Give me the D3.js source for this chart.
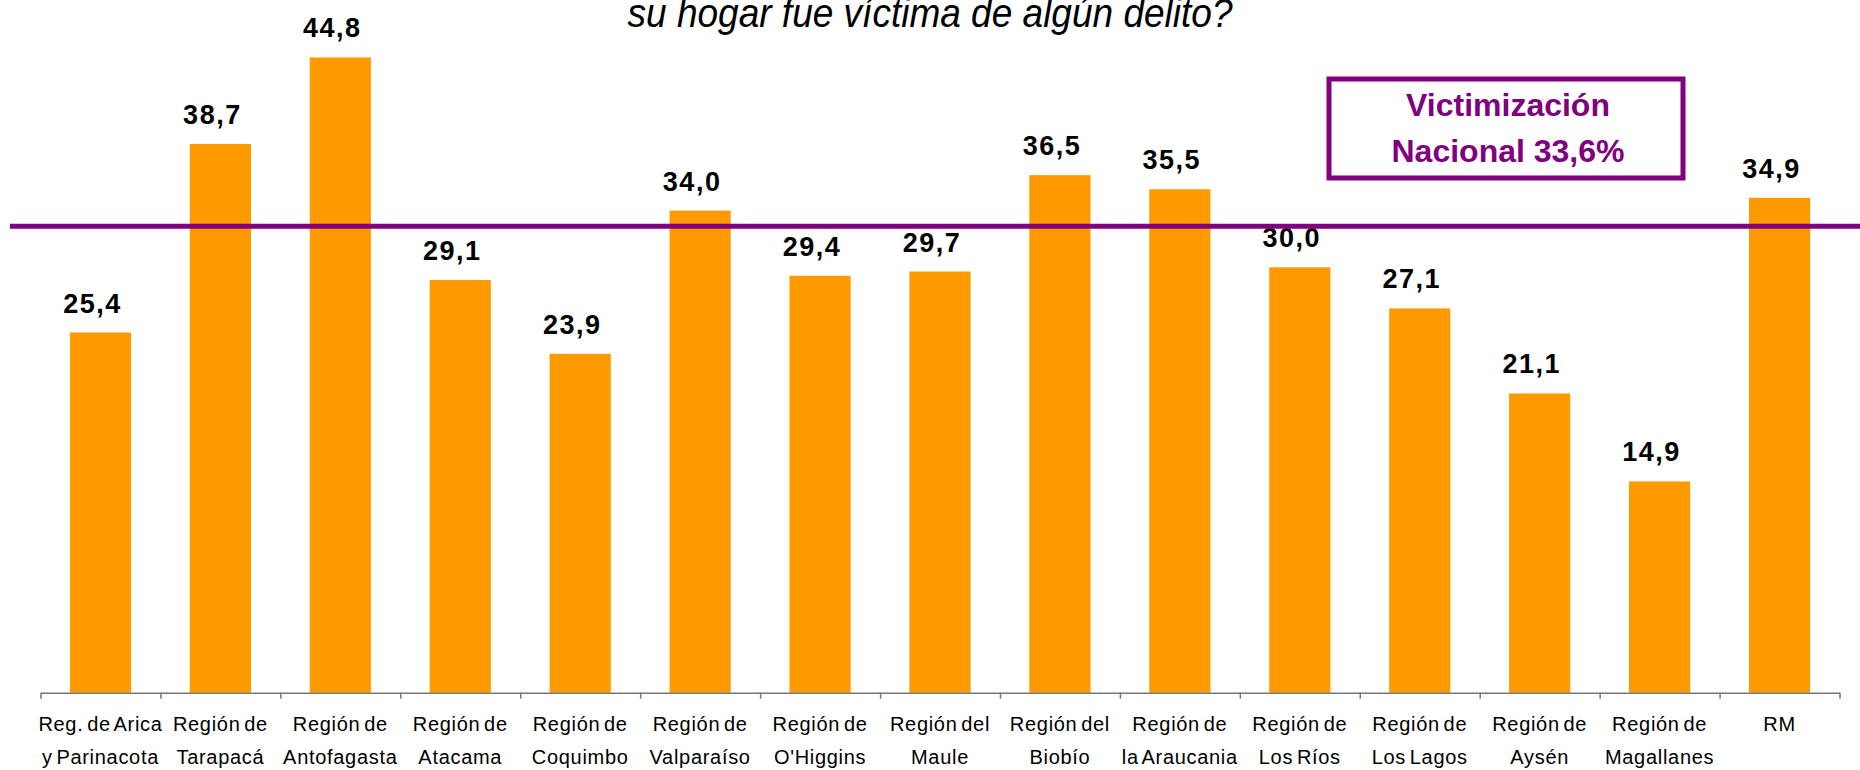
<!DOCTYPE html>
<html lang="es">
<head>
<meta charset="UTF-8">
<title>Victimización por región</title>
<script src="https://d3js.org/d3.v7.min.js"></script>
<style>
  body { margin: 0; background: #fff; overflow: hidden; }
  svg { display: block; font-family: "Liberation Sans", Arial, sans-serif; }
</style>
</head>
<body>
<svg id="chart" width="1860" height="770"></svg>
<script>
// datos
const regionesL1 = ['Reg. de Arica', 'Región de', 'Región de', 'Región de', 'Región de', 'Región de', 'Región de',
  'Región del', 'Región del', 'Región de', 'Región de', 'Región de', 'Región de', 'Región de', 'RM'];
const regionesL2 = ['y Parinacota', 'Tarapacá', 'Antofagasta', 'Atacama', 'Coquimbo', 'Valparaíso', "O'Higgins",
  'Maule', 'Biobío', 'la Araucania', 'Los Ríos', 'Los Lagos', 'Aysén', 'Magallanes', ''];
const victimizacion = [25.4, 38.7, 44.8, 29.1, 23.9, 34.0, 29.4, 29.7, 36.5, 35.5, 30.0, 27.1, 21.1, 14.9, 34.9];
const nacional = 33.6;
const nivelLinea = 32.9;   // where the national line sits in the picture
const titulo = 'su hogar fue víctima de algún delito?';

const svg = d3.select('#chart');
const W = 1860, baseY = 692.7;

const x = d3.scaleBand()
  .domain(d3.range(victimizacion.length))
  .range([40.5, 1839.5])
  .paddingInner(0.49)
  .paddingOuter(0.245);

const y = d3.scaleLinear().domain([0, 48.85]).range([baseY, 0]);

// title (top is cut off in the original)
svg.append('text')
  .attr('x', 930).attr('y', 27)
  .attr('text-anchor', 'middle')
  .attr('font-size', 40)
  .attr('font-style', 'italic')
  .attr('textLength', 605)
  .attr('lengthAdjust', 'spacingAndGlyphs')
  .text(titulo);

// bars
svg.selectAll('rect.bar')
  .data(victimizacion)
  .enter().append('rect')
  .attr('class', 'bar')
  .attr('x', (d, i) => x(i))
  .attr('y', d => y(d))
  .attr('width', x.bandwidth())
  .attr('height', d => baseY - y(d))
  .attr('fill', '#ff9900');

// value labels
svg.selectAll('text.val')
  .data(victimizacion)
  .enter().append('text')
  .attr('class', 'val')
  .attr('x', (d, i) => x(i) + x.bandwidth() / 2 - 8)
  .attr('y', d => y(d) - 20)
  .attr('text-anchor', 'middle')
  .attr('font-size', 27)
  .attr('font-weight', 'bold')
  .attr('letter-spacing', 1.5)
  .attr('fill', '#000')
  .text(d => d.toFixed(1).replace('.', ','));

// x axis with ticks between categories
const xt = d3.scaleLinear().domain([0, victimizacion.length]).range(x.range());
const axis = svg.append('g')
  .attr('transform', `translate(0,${baseY})`)
  .call(d3.axisBottom(xt).tickValues(d3.range(victimizacion.length + 1)).tickFormat('').tickSize(6).tickSizeOuter(0));
axis.selectAll('path, line').attr('stroke', '#777').attr('stroke-width', 1.5);

// category labels
const cat = svg.append('g').attr('font-size', 20).attr('fill', '#000')
  .attr('text-anchor', 'middle').attr('letter-spacing', 0.7).attr('word-spacing', -2.5);
cat.selectAll('text.l1')
  .data(regionesL1)
  .enter().append('text')
  .attr('x', (d, i) => x(i) + x.bandwidth() / 2)
  .attr('y', 731)
  .text(d => d);
cat.selectAll('text.l2')
  .data(regionesL2)
  .enter().append('text')
  .attr('x', (d, i) => x(i) + x.bandwidth() / 2)
  .attr('y', 764)
  .text(d => d);

// national line
svg.append('line')
  .attr('x1', 10).attr('x2', W)
  .attr('y1', y(nivelLinea)).attr('y2', y(nivelLinea))
  .attr('stroke', '#800080')
  .attr('stroke-width', 5);

// box
svg.append('rect')
  .attr('x', 1329).attr('y', 79)
  .attr('width', 354).attr('height', 99)
  .attr('fill', '#fff')
  .attr('stroke', '#800080')
  .attr('stroke-width', 5);

const caja = svg.append('g').attr('fill', '#800080').attr('font-weight', 'bold')
  .attr('font-size', 32).attr('text-anchor', 'middle');
caja.append('text').attr('x', 1508).attr('y', 116).text('Victimización');
caja.append('text').attr('x', 1508).attr('y', 162).text('Nacional ' + String(nacional).replace('.', ',') + '%');
</script>
</body>
</html>
